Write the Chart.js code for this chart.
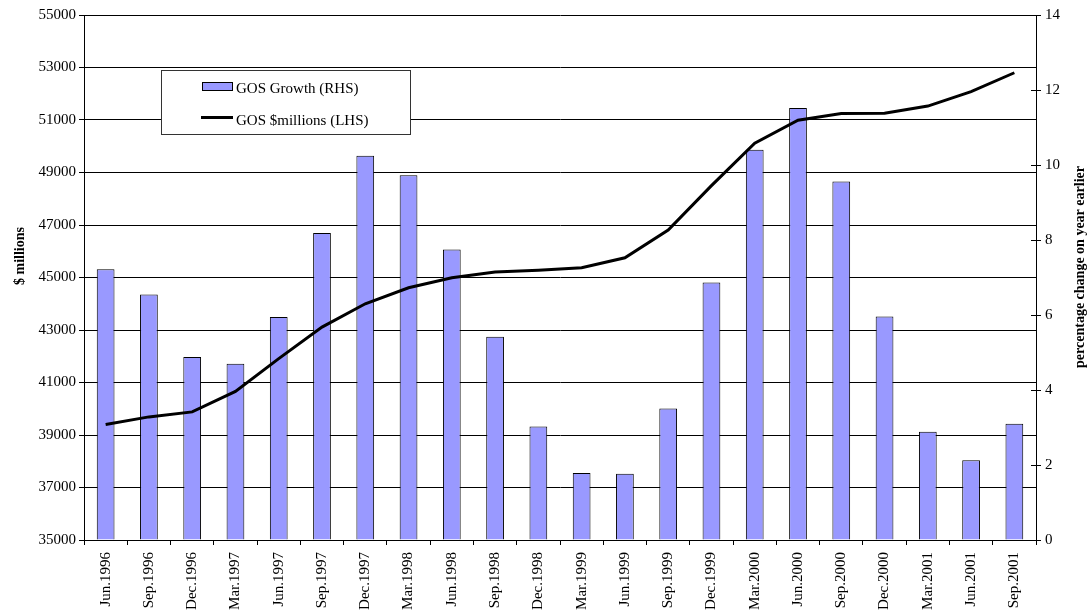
<!DOCTYPE html>
<html>
<head>
<meta charset="utf-8">
<script src="https://cdn.jsdelivr.net/npm/chart.js@4/dist/chart.umd.min.js"></script>
<style>
html,body{margin:0;padding:0;background:#fff;}
#wrap{width:1090px;height:612px;position:relative;}
</style>
</head>
<body>
<div id="wrap"><canvas id="c" width="1090" height="612"></canvas></div>
<script>
const categories = ["Jun.1996","Sep.1996","Dec.1996","Mar.1997","Jun.1997","Sep.1997","Dec.1997","Mar.1998","Jun.1998","Sep.1998","Dec.1998","Mar.1999","Jun.1999","Sep.1999","Dec.1999","Mar.2000","Jun.2000","Sep.2000","Dec.2000","Mar.2001","Jun.2001","Sep.2001"];
const growthRHS = [7.22, 6.55, 4.88, 4.70, 5.95, 8.19, 10.25, 9.73, 7.75, 5.42, 3.03, 1.79, 1.77, 3.51, 6.87, 10.41, 11.52, 9.56, 5.96, 2.89, 2.13, 3.10];
const gosMillions = [39400, 39690, 39880, 40660, 41910, 43110, 44000, 44610, 44990, 45210, 45280, 45370, 45750, 46810, 48500, 50120, 50990, 51250, 51260, 51530, 52080, 52800];
const leftAxisTitle = "$ millions";
const rightAxisTitle = "percentage change on year earlier";
const growthLabel = "GOS Growth (RHS)";
const gosLabel = "GOS $millions (LHS)";

const FONT = "'Liberation Serif', 'Times New Roman', serif";

const overlay = {
  id: 'overlay',
  afterDraw(chart) {
    const ctx = chart.ctx;
    const ca = chart.chartArea;
    ctx.save();
    // inner halves of right-axis tick marks
    const y1 = chart.scales.y1;
    ctx.strokeStyle = '#000';
    ctx.lineWidth = 1;
    y1.ticks.forEach((t, i) => {
      const py = Math.round(y1.getPixelForTick(i)) + 0.5;
      ctx.beginPath();
      ctx.moveTo(ca.right - 5, py);
      ctx.lineTo(ca.right, py);
      ctx.stroke();
    });
    // axis titles (both read bottom-to-top)
    ctx.fillStyle = '#000';
    ctx.font = "bold 14px " + FONT;
    ctx.textAlign = 'center';
    ctx.textBaseline = 'middle';
    ctx.save();
    ctx.translate(20, 256);
    ctx.rotate(-Math.PI / 2);
    ctx.fillText(leftAxisTitle, 0, 0);
    ctx.restore();
    ctx.save();
    ctx.translate(1080, 267);
    ctx.rotate(-Math.PI / 2);
    ctx.fillText(rightAxisTitle, 0, 0);
    ctx.restore();
    // legend box
    const ds = chart.data.datasets;
    ctx.fillStyle = '#fff';
    ctx.fillRect(161, 70, 249, 64);
    ctx.strokeStyle = '#333';
    ctx.lineWidth = 1;
    ctx.strokeRect(161.5, 70.5, 249, 64);
    // bar swatch
    ctx.fillStyle = ds[0].backgroundColor;
    ctx.fillRect(202, 82, 31, 9);
    ctx.strokeStyle = '#000';
    ctx.strokeRect(202.5, 82.5, 30, 8);
    // line swatch
    ctx.lineWidth = 3;
    ctx.beginPath();
    ctx.moveTo(201, 117.5);
    ctx.lineTo(233, 117.5);
    ctx.stroke();
    ctx.fillStyle = '#000';
    ctx.font = "15px " + FONT;
    ctx.textAlign = 'left';
    ctx.textBaseline = 'middle';
    ctx.fillText(ds[0].label, 236, 89);
    ctx.fillText(ds[1].label, 236, 121);
    ctx.restore();
  }
};

new Chart(document.getElementById('c'), {
  type: 'bar',
  data: {
    labels: categories,
    datasets: [
      {
        type: 'bar',
        label: growthLabel,
        data: growthRHS,
        yAxisID: 'y1',
        backgroundColor: '#9999FF',
        borderColor: '#000',
        borderWidth: 1,
        barPercentage: 0.41,
        categoryPercentage: 1.0,
        order: 1
      },
      {
        type: 'line',
        label: gosLabel,
        data: gosMillions,
        yAxisID: 'y',
        borderColor: '#000',
        borderWidth: 3,
        pointRadius: 0,
        tension: 0,
        fill: false,
        order: 0
      }
    ]
  },
  options: {
    responsive: false,
    animation: false,
    devicePixelRatio: 1,
    layout: { padding: { top: 15, left: 0, right: 0, bottom: 0 } },
    plugins: {
      legend: { display: false },
      tooltip: { enabled: false },
      title: { display: false }
    },
    scales: {
      x: {
        type: 'category',
        offset: true,
        grid: { offset: true, drawOnChartArea: false, drawTicks: true, tickLength: 5, color: '#000' },
        border: { color: '#000', width: 1 },
        ticks: {
          minRotation: 90, maxRotation: 90, autoSkip: false,
          font: { family: FONT, size: 15 }, color: '#000', padding: 7
        },
        afterFit(s) { s.height = 72; }
      },
      y: {
        position: 'left',
        min: 35000, max: 55000,
        grid: { color: '#000', lineWidth: 1, drawTicks: true, tickLength: 5, tickColor: '#000' },
        border: { color: '#000', width: 1 },
        ticks: { stepSize: 2000, font: { family: FONT, size: 15 }, color: '#000', padding: 3,
          callback: (v) => String(v) },
        afterFit(s) { s.width = 84; }
      },
      y1: {
        position: 'right',
        min: 0, max: 14,
        grid: { drawOnChartArea: false, drawTicks: true, tickLength: 5, color: '#000' },
        border: { color: '#000', width: 1 },
        ticks: { stepSize: 2, font: { family: FONT, size: 15 }, color: '#000', padding: 4,
          callback: (v) => String(v) },
        afterFit(s) { s.width = 54; }
      }
    }
  },
  plugins: [overlay]
});
</script>
</body>
</html>
